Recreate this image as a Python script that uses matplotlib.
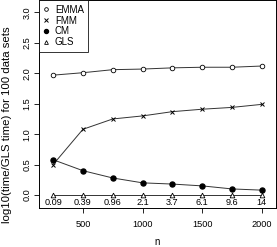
import numpy as np
import matplotlib.pyplot as plt

plt.rcParams['font.family'] = ['Liberation Sans', 'DejaVu Sans']

n = [250, 500, 750, 1000, 1250, 1500, 1750, 2000]
emma = [1.97, 2.01, 2.06, 2.07, 2.09, 2.10, 2.10, 2.12]
fmm = [0.50, 1.08, 1.25, 1.30, 1.37, 1.41, 1.44, 1.49]
cm = [0.58, 0.40, 0.28, 0.20, 0.18, 0.15, 0.10, 0.08]
gls = [0, 0, 0, 0, 0, 0, 0, 0]
gls_time = ['0.09', '0.39', '0.96', '2.1', '3.7', '6.1', '9.6', '14']

fs = 6.6
fig = plt.figure(figsize=(2.77, 2.47), dpi=100)
ax = fig.add_axes([0.140, 0.158, 0.856, 0.84])

lc = '#333333'
ax.plot(n, emma, '-o', color=lc, lw=0.7, ms=3.3, mfc='white', mec='black', mew=0.6, label='EMMA')
ax.plot(n, fmm, '-x', color=lc, lw=0.7, ms=3.3, mec='black', mew=0.7, label='FMM')
ax.plot(n, cm, '-o', color=lc, lw=0.7, ms=3.6, mfc='black', mec='black', label='CM')
ax.plot(n, gls, '-^', color=lc, lw=0.7, ms=3.4, mfc='white', mec='black', mew=0.6, label='GLS')
for x, t in zip(n, gls_time):
    ax.text(x, -0.115, t, ha='center', va='center', fontsize=fs)

ax.set_xlim(130, 2118)
ax.set_ylim(-0.213, 3.197)
ax.set_xticks([500, 1000, 1500, 2000])
ax.set_yticks([0.0, 0.5, 1.0, 1.5, 2.0, 2.5, 3.0])
ax.set_yticklabels(['0.0', '0.5', '1.0', '1.5', '2.0', '2.5', '3.0'], rotation=90, va='center')
ax.tick_params(labelsize=fs, length=3.8, width=0.6)
ax.tick_params(axis='x', pad=4.5)
ax.tick_params(axis='y', pad=1.5)
for s in ax.spines.values():
    s.set_linewidth(0.7)
ax.set_xlabel('n', fontsize=7, va='center')
ax.xaxis.set_label_coords(0.5, -0.165)
ax.set_ylabel('log10(time/GLS time) for 100 data sets', fontsize=8.2, va='center')
ax.yaxis.set_label_coords(-0.135, 0.40)

leg = ax.legend(loc='upper left', fontsize=7, frameon=True, fancybox=False,
                borderaxespad=0, handlelength=0.6, handletextpad=0.6,
                labelspacing=0.08, borderpad=0.45, markerscale=0.8)
leg.get_frame().set_edgecolor('black')
leg.get_frame().set_linewidth(0.7)
for h in leg.get_lines():
    h.set_linestyle('none')

fig.savefig('out.png', dpi=100)
